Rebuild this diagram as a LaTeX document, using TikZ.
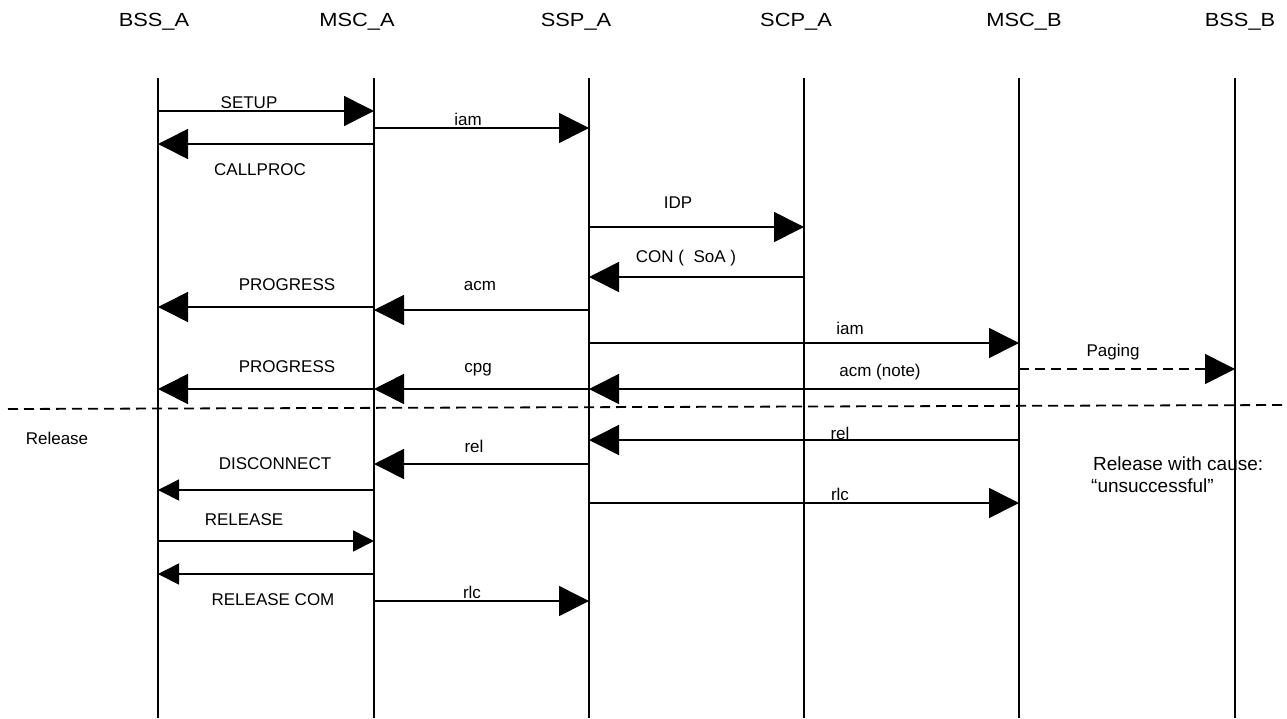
\documentclass[tikz,border=0pt]{standalone}
\usepackage{fontspec}
\setmainfont{Liberation Sans}
\usetikzlibrary{arrows.meta}
\begin{document}
\begin{tikzpicture}[x=1pt,y=-1pt,
  lbl/.style={font=\fontsize{17}{20}\selectfont, anchor=base, inner sep=0pt},
  note/.style={font=\fontsize{19}{22}\selectfont, anchor=base west, inner sep=0pt},
  hdr/.style={font=\fontsize{19}{22}\selectfont, anchor=base, inner sep=0pt, xscale=1.15},
  life/.style={line width=1.5pt},
  msg/.style={line width=1.6pt, -{Triangle[length=30pt,width=30pt]}},
  smsg/.style={line width=1.6pt, -{Triangle[length=21pt,width=21pt]}},
  dmsg/.style={msg, dash pattern=on 10pt off 6pt},
  sep/.style={line width=1.8pt, dash pattern=on 10pt off 6pt},
]
\useasboundingbox (0,0) rectangle (1287,718);

% entity names
\node[hdr] (hBSSA) at (154,26) {BSS\_A};
\node[hdr] (hMSCA) at (357,26) {MSC\_A};
\node[hdr] (hSSPA) at (576,26) {SSP\_A};
\node[hdr] (hSCPA) at (796,26) {SCP\_A};
\node[hdr] (hMSCB) at (1024,26) {MSC\_B};
\node[hdr] (hBSSB) at (1240,26) {BSS\_B};

% lifelines
\foreach \n/\x in {bssA/158, mscA/374, sspA/589, scpA/804, mscB/1019, bssB/1235} {
  \coordinate (\n) at (\x,78);
  \coordinate (\n-end) at (\x,718);
  \draw[life] (\n) -- (\n-end);
}

% message rows
\foreach \r/\y in {r1/111, r2/128, r3/144, r4/227, r5/277, r6/307, r7/310, r8/343,
                   r9/369, r10/389, r11/440, r12/464, r13/490, r14/503, r15/541,
                   r16/574, r17/601} {
  \coordinate (\r) at (0,\y);
}

% call set-up
\draw[msg] (bssA |- r1) -- (mscA |- r1);
\node[lbl] (tSetup) at (249,108) {SETUP};
\draw[msg] (mscA |- r2) -- (sspA |- r2);
\node[lbl] (tIam1) at (468,125) {iam};
\draw[msg] (mscA |- r3) -- (bssA |- r3);
\node[lbl] (tCallproc) at (260,175) {CALLPROC};
\draw[msg] (sspA |- r4) -- (scpA |- r4);
\node[lbl] (tIdp) at (678,208) {IDP};
\draw[msg] (scpA |- r5) -- (sspA |- r5);
\node[lbl] (tCon) at (686,262) {CON (~~SoA )};
\draw[msg] (mscA |- r6) -- (bssA |- r6);
\node[lbl] (tProg1) at (287,290) {PROGRESS};
\draw[msg] (sspA |- r7) -- (mscA |- r7);
\node[lbl] (tAcm1) at (480,290) {acm};
\draw[msg] (sspA |- r8) -- (mscB |- r8);
\node[lbl] (tIam2) at (850,334) {iam};
\draw[dmsg] (mscB |- r9) -- (bssB |- r9);
\node[lbl] (tPaging) at (1113,356) {Paging};
\draw[msg] (mscB |- r10) -- (sspA |- r10);
\node[lbl] (tAcm2) at (880,376) {acm (note)};
\draw[msg] (sspA |- r10) -- (mscA |- r10);
\node[lbl] (tCpg) at (478,372) {cpg};
\draw[msg] (mscA |- r10) -- (bssA |- r10);
\node[lbl] (tProg2) at (287,372) {PROGRESS};

% release phase
\coordinate (sepL) at (8,409);
\coordinate (sepR) at (1287,405);
\draw[sep] (sepL) -- (sepR);
\node[lbl] (tRelease) at (57,444) {Release};

\draw[msg] (mscB |- r11) -- (sspA |- r11);
\node[lbl] (tRel1) at (840,439) {rel};
\draw[msg] (sspA |- r12) -- (mscA |- r12);
\node[lbl] (tRel2) at (474,452) {rel};
\draw[smsg] (mscA |- r13) -- (bssA |- r13);
\node[lbl] (tDisc) at (275,469) {DISCONNECT};
\draw[msg] (sspA |- r14) -- (mscB |- r14);
\node[lbl] (tRlc1) at (840,500) {rlc};
\node[note] (tCause1) at (1093,470) {Release with cause:};
\node[note] (tCause2) at (1091,492) {“unsuccessful”};
\draw[smsg] (bssA |- r15) -- (mscA |- r15);
\node[lbl] (tRelCmd) at (244,525) {RELEASE};
\draw[smsg] (mscA |- r16) -- (bssA |- r16);
\node[lbl] (tRelCom) at (273,605) {RELEASE COM};
\draw[msg] (mscA |- r17) -- (sspA |- r17);
\node[lbl] (tRlc2) at (472,598) {rlc};
\end{tikzpicture}
\end{document}
